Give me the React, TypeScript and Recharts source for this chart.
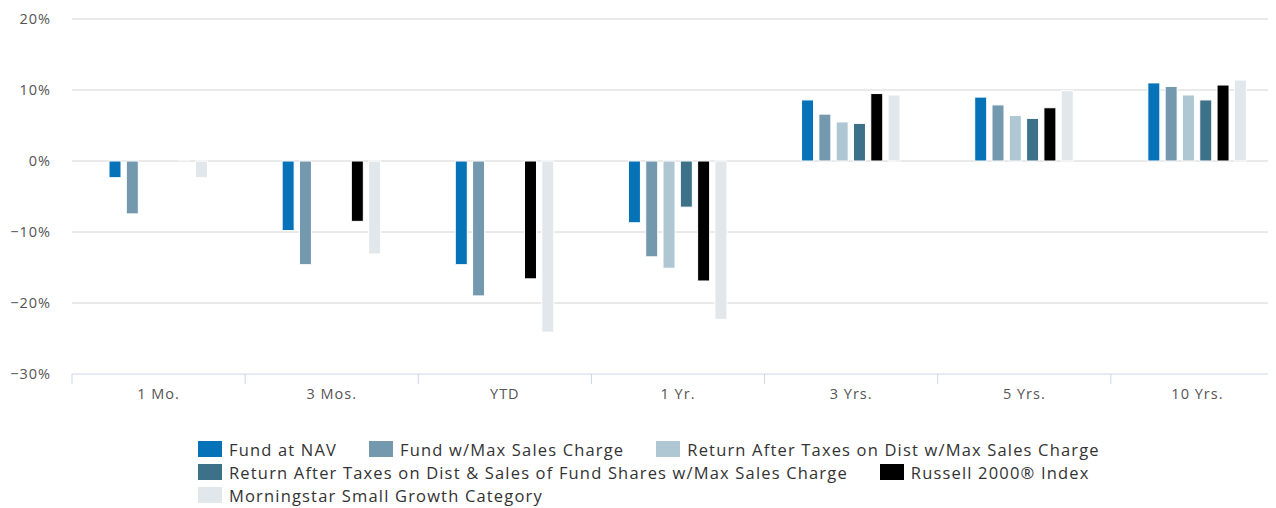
import React from "react";
import { BarChart, Bar, XAxis, YAxis, CartesianGrid, Legend } from "recharts";

const categories = ["1 Mo.", "3 Mos.", "YTD", "1 Yr.", "3 Yrs.", "5 Yrs.", "10 Yrs."];
const fundNav = [-2.35, -9.8, -14.6, -8.7, 8.6, 9.0, 11.0];
const fundMax = [-7.45, -14.6, -19.0, -13.5, 6.6, 7.9, 10.5];
const afterTaxDist = [null, null, null, -15.1, 5.5, 6.4, 9.3];
const afterTaxSales = [null, null, null, -6.5, 5.3, 6.0, 8.6];
const russell = [-0.1, -8.5, -16.6, -16.9, 9.5, 7.5, 10.7];
const morningstar = [-2.35, -13.1, -24.1, -22.3, 9.3, 9.9, 11.4];
const yTicks = [-30, -20, -10, 0, 10, 20];

const seriesDefs = [
  { key: "nav", name: "Fund at NAV", color: "#0672B8", values: fundNav },
  { key: "max", name: "Fund w/Max Sales Charge", color: "#7499AF", values: fundMax },
  { key: "atd", name: "Return After Taxes on Dist w/Max Sales Charge", color: "#AFC6D3", values: afterTaxDist },
  { key: "ats", name: "Return After Taxes on Dist & Sales of Fund Shares w/Max Sales Charge", color: "#3D7189", values: afterTaxSales },
  { key: "rus", name: "Russell 2000® Index", color: "#000000", values: russell },
  { key: "mor", name: "Morningstar Small Growth Category", color: "#E2E7EB", values: morningstar },
];

const data = categories.map((c, i) => {
  const row: Record<string, any> = { cat: c };
  seriesDefs.forEach((s) => {
    row[s.key] = s.values[i];
  });
  return row;
});

const FONT = "'Open Sans', 'DejaVu Sans', sans-serif";

const XTick = (props: any) => {
  const { x, y, payload, index } = props;
  const off = payload && typeof payload.offset === "number" ? payload.offset : 86.6;
  const last = index === categories.length - 1;
  return (
    <g>
      <line x1={x - off} x2={x - off} y1={y} y2={y + 10} stroke="#ccd6eb" strokeWidth={1} />
      {last && <line x1={x + off - 0.5} x2={x + off - 0.5} y1={y} y2={y + 10} stroke="#ccd6eb" strokeWidth={1} />}
      <text x={x} y={y + 25} textAnchor="middle" fill="#555" fontSize={14.5} fontFamily={FONT} letterSpacing={1}>
        {payload.value}
      </text>
    </g>
  );
};

const LegendContent = () => (
  <div
    style={{
      position: "absolute",
      left: 190,
      top: 432,
      width: 925,
      display: "flex",
      flexWrap: "wrap",
      columnGap: 32,
      rowGap: 5,
      fontFamily: FONT,
      fontSize: 16.5,
      color: "#333",
      letterSpacing: 1.17,
    }}
  >
    {seriesDefs.map((s) => (
      <div key={s.key} style={{ display: "flex", alignItems: "center", height: 18 }}>
        <span style={{ display: "inline-block", width: 24, height: 16, background: s.color, marginRight: 7 }} />
        <span style={{ whiteSpace: "nowrap" }}>{s.name}</span>
      </div>
    ))}
  </div>
);

export default function App() {
  return (
    <div style={{ position: "relative", width: 1276, height: 500, background: "#fff" }}>
      <BarChart
        width={1276}
        height={500}
        data={data}
        margin={{ top: 11, right: 0, bottom: 94, left: 0 }}
        barSize={12}
        barGap={5.3}
      >
        <CartesianGrid vertical={false} stroke="#d4d4d4" horizontalValues={[-20, -10, 0, 10, 20]} />
        <YAxis
          domain={[-30, 20]}
          ticks={yTicks}
          width={64}
          axisLine={false}
          tickLine={false}
          tickSize={0}
          tickMargin={21}
          tickFormatter={(v: number) => (v < 0 ? "−" + Math.abs(v) + "%" : v + "%")}
          tick={{ fill: "#555", fontSize: 14.5, fontFamily: FONT, letterSpacing: 1 } as any}
          allowDataOverflow
        />
        <XAxis
          dataKey="cat"
          height={40}
          tickSize={0}
          tickMargin={0}
          axisLine={{ stroke: "#ccd6eb", strokeWidth: 1 }}
          tickLine={false}
          tick={<XTick />}
          interval={0}
        />
        <Legend content={<LegendContent />} wrapperStyle={{ position: "absolute", left: 0, top: 0, width: 0, height: 0 }} />
        {seriesDefs.map((s) => (
          <Bar
            key={s.key}
            dataKey={s.key}
            name={s.name}
            fill={s.color}
            stroke="#ffffff"
            strokeWidth={1}
            isAnimationActive={false}
          />
        ))}
      </BarChart>
    </div>
  );
}
